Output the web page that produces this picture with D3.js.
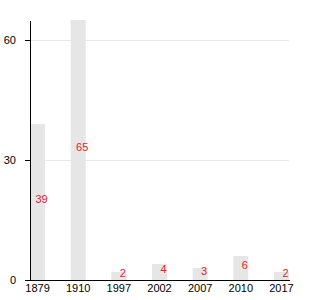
<!DOCTYPE html>
<html>
<head>
<style>
body { margin: 0; background: #fff; }
svg { font-family: "Liberation Sans", Arial, sans-serif; }
.axis text { font-size: 11px; fill: #000; }
.axis path, .axis line { stroke: #000; shape-rendering: crispEdges; }
.grid line { stroke: #e8e8e8; shape-rendering: crispEdges; }
.val { font-size: 11px; fill: #e8202e; }
</style>
</head>
<body>
<div id="chart"></div>
<script src="https://d3js.org/d3.v7.min.js"></script>
<script>
var years = ["1879", "1910", "1997", "2002", "2007", "2010", "2017"];
var counts = [39, 65, 2, 4, 3, 6, 2];
var yTicks = [0, 30, 60];

var width = 330, height = 300,
    margin = {top: 20, right: 41, bottom: 20, left: 30};

var svg = d3.select("#chart").append("svg")
  .attr("width", width)
  .attr("height", height);

var defs = svg.append("defs");
defs.append("filter").attr("id", "soft")
  .attr("x", "-20%").attr("y", "-5%").attr("width", "140%").attr("height", "110%")
  .append("feGaussianBlur").attr("stdDeviation", 0.7);

var x = d3.scaleBand()
  .domain(years)
  .range([margin.left, width - margin.right])
  .paddingInner(0.63)
  .paddingOuter(0);

var y = d3.scaleLinear()
  .domain([0, 65])
  .range([height - margin.bottom, margin.top]);

// grid lines
svg.append("g").attr("class", "grid")
  .selectAll("line")
  .data(yTicks.filter(d => d > 0))
  .enter().append("line")
  .attr("x1", margin.left)
  .attr("x2", width - margin.right)
  .attr("y1", d => y(d))
  .attr("y2", d => y(d));

var data = years.map((d, i) => ({year: d, n: counts[i]}));

// bars
svg.append("g").attr("filter", "url(#soft)")
  .selectAll("rect")
  .data(data)
  .enter().append("rect")
  .attr("x", d => x(d.year))
  .attr("y", d => y(d.n))
  .attr("width", x.bandwidth())
  .attr("height", d => y(0) - y(d.n))
  .style("fill", "#e6e6e6");

// value labels
svg.append("g")
  .selectAll("text")
  .data(data)
  .enter().append("text")
  .attr("class", "val")
  .attr("text-anchor", "middle")
  .attr("x", d => x(d.year) + x.bandwidth() / 2 + 4)
  .attr("y", d => (y(d.n) + y(0)) / 2 + 0.5)
  .text(d => d.n);

// axes
var xAxis = d3.axisBottom(x).tickSize(0).tickPadding(4);
svg.append("g").attr("class", "axis")
  .attr("transform", `translate(0,${y(0)})`)
  .call(xAxis);

var yAxis = d3.axisLeft(y).tickValues(yTicks).tickSize(5).tickSizeOuter(0).tickPadding(9);
svg.append("g").attr("class", "axis")
  .attr("transform", `translate(${margin.left},0)`)
  .call(yAxis);
</script>
</body>
</html>
